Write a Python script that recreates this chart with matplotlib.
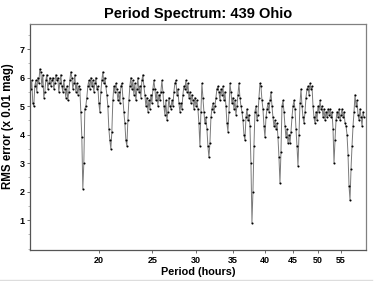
import numpy as np
import matplotlib
matplotlib.use("Agg")
import matplotlib.pyplot as plt
from matplotlib.ticker import FixedLocator, FixedFormatter, NullLocator, MultipleLocator
from matplotlib.lines import Line2D

plt.rcParams['font.family'] = ['Liberation Sans', 'DejaVu Sans']

# period scan range (hours)
period_start = 15.05
period_stop = 60.6

# RMS error (x 0.01 mag), read left to right
rms = [
    5.6, 5.9, 5.1, 5.0, 5.7, 5.9, 5.5, 6.0, 5.8, 6.3,
    6.2, 5.7, 6.1, 5.3, 5.5, 5.9, 6.1, 5.6, 5.8, 6.0,
    5.7, 5.9, 6.0, 5.6, 5.8, 6.1, 5.9, 6.0, 5.5, 5.8,
    6.1, 5.7, 5.5, 5.9, 5.6, 5.3, 5.7, 5.2, 5.5, 5.9,
    6.2, 6.0, 5.6, 5.8, 6.1, 5.5, 5.8, 5.4, 5.7, 5.6,
    4.8, 3.9, 2.1, 3.0, 4.9, 5.0, 5.3, 5.7, 5.9, 5.6,
    6.0, 5.7, 5.9, 5.5, 5.8, 6.0, 5.6, 5.7, 5.1, 4.8,
    5.5, 5.9, 6.2, 5.8, 6.0, 5.7, 5.4, 5.0, 4.2, 3.8,
    3.5, 4.1, 5.2, 5.7, 5.5, 5.8, 5.6, 5.2, 5.5, 5.1,
    5.7, 5.8, 5.3, 4.8, 4.4, 3.8, 3.6, 4.5, 5.2, 5.7,
    6.0, 5.6, 5.9, 5.4, 5.8, 5.2, 5.6, 6.0, 5.5, 5.7,
    5.3, 5.9, 6.1, 5.7, 5.4, 5.0, 5.3, 4.8, 5.2, 4.9,
    5.4, 5.1, 5.6, 5.9, 5.6, 5.2, 5.5, 5.0, 5.4, 5.2,
    5.5, 5.9, 5.5, 5.0, 4.7, 5.2, 4.5, 4.8, 5.3, 5.0,
    4.9, 5.2, 5.0, 5.5, 5.8, 5.9, 5.4, 5.6, 5.1, 4.8,
    5.1, 4.9, 5.4, 5.7, 5.6, 5.9, 5.5, 5.8, 5.3, 5.5,
    5.1, 5.4, 5.2, 4.9, 5.3, 5.0, 5.2, 4.9, 4.4, 3.6,
    4.8, 5.8, 5.3, 4.8, 4.4, 4.6, 4.2, 3.6, 3.2, 3.7,
    4.6, 4.9, 5.1, 4.8, 5.0, 5.3, 5.6, 5.7, 5.5, 5.2,
    5.6, 5.4, 5.7, 5.2, 5.5, 5.0, 4.4, 4.1, 4.8, 5.8,
    5.5, 5.1, 5.3, 4.9, 5.2, 4.7, 5.0, 5.4, 5.8, 5.3,
    5.0, 4.8, 4.5, 4.0, 3.8, 4.6, 4.9, 4.5, 4.7, 4.3,
    3.0, 0.9, 2.0, 3.6, 4.8, 5.0, 4.5, 4.7, 5.3, 5.8,
    5.7, 5.2, 4.9, 4.3, 3.9, 4.6, 4.9, 5.1, 4.8, 5.2,
    5.5, 5.0, 4.6, 4.3, 4.5, 4.2, 4.4, 3.9, 3.2, 2.3,
    3.4, 5.0, 5.2, 4.8, 4.3, 3.9, 4.2, 3.7, 4.0, 3.7,
    4.1, 4.6, 5.0, 5.2, 4.9, 4.2, 3.6, 2.9, 4.0, 5.1,
    5.6, 5.0, 4.6, 4.4, 4.8, 5.3, 5.6, 5.7, 5.4, 5.8,
    5.6, 5.7, 5.0, 4.6, 4.4, 4.8, 4.5, 5.0, 4.8, 5.2,
    4.9, 5.0, 4.6, 4.9, 4.5, 4.8, 4.6, 4.9, 4.7, 4.9,
    4.6, 4.8, 4.2, 3.0, 3.8, 4.5, 4.8, 4.6, 4.9, 4.5,
    4.7, 4.9, 4.6, 4.8, 4.4, 4.3, 4.0, 3.3, 2.2, 1.7,
    2.8, 3.6, 4.3, 4.8, 5.4, 5.0, 5.2, 4.7, 4.5, 4.9,
    4.6, 4.3, 4.8, 4.6,
]

period = np.geomspace(period_start, period_stop, len(rms))

x_ticks = [20, 25, 30, 35, 40, 45, 50, 55]
y_ticks = [1, 2, 3, 4, 5, 6, 7]

fig = plt.figure(figsize=(3.74, 2.81), dpi=100)
ax = fig.add_axes([0.0802, 0.1103, 0.8984, 0.8043])

ax.plot(period, rms, color='#7a7a7a', lw=0.7, zorder=1)
ax.plot(period, rms, ls='none', marker='o', ms=1.5, mfc='black', mec='black',
        mew=0, zorder=2)

ax.set_xscale('log')
ax.set_xlim(15.0, 61.1)
ax.set_ylim(-0.05, 7.88)

ax.xaxis.set_major_locator(FixedLocator(x_ticks))
ax.xaxis.set_major_formatter(FixedFormatter([str(t) for t in x_ticks]))
ax.xaxis.set_minor_locator(NullLocator())
ax.yaxis.set_major_locator(FixedLocator(y_ticks))
ax.yaxis.set_minor_locator(MultipleLocator(0.5))

ax.tick_params(axis='both', which='major', labelsize=6.5, length=2, width=0.6,
               color='#555555')
ax.tick_params(axis='x', which='major', pad=2.5)
ax.tick_params(axis='y', which='major', pad=2)
ax.tick_params(axis='y', which='minor', length=1.5, width=0.5, color='#999999')
for lab in ax.get_xticklabels() + ax.get_yticklabels():
    lab.set_fontweight('bold')

for side in ['left', 'bottom']:
    ax.spines[side].set_color('#555555')
    ax.spines[side].set_linewidth(0.9)
for side in ['top', 'right']:
    ax.spines[side].set_color('#808080')
    ax.spines[side].set_linewidth(0.9)

ax.set_title('Period Spectrum: 439 Ohio', fontsize=10.5, fontweight='bold', pad=4)
ax.set_xlabel('Period (hours)', fontsize=7.8, fontweight='bold', labelpad=1)
ax.set_ylabel('RMS error (x 0.01 mag)', fontsize=8.3, fontweight='bold')
ax.yaxis.set_label_coords(-0.047, 0.549)

fig.add_artist(Line2D([0, 0.995], [0.003, 0.003], color='#dddddd', lw=1,
                      transform=fig.transFigure))

fig.savefig('out.png', dpi=100)
